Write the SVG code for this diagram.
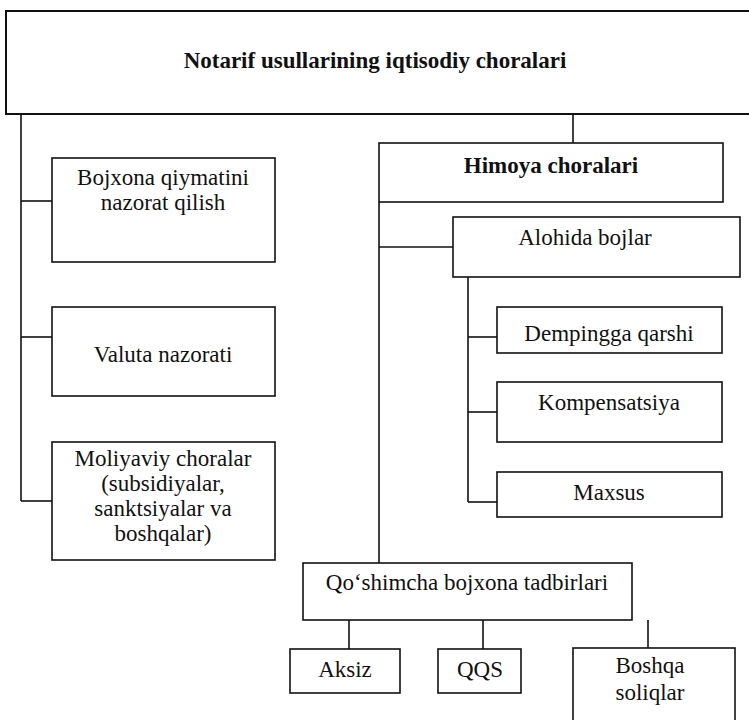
<svg xmlns="http://www.w3.org/2000/svg" width="749" height="720" viewBox="0 0 749 720">
<style>
rect{fill:#fff;stroke:#111;stroke-width:1.6}
.c line{stroke:#111;stroke-width:1.6}
text{font-family:"Liberation Serif","Times New Roman",serif;font-size:23px;fill:#111;text-anchor:middle}
.b{font-weight:bold}
</style>
<rect x="0" y="0" width="749" height="720" style="fill:#fff;stroke:none"/>
<g id="connectors" class="c">
<line x1="21" y1="114" x2="21" y2="501"/>
<line x1="21" y1="201" x2="52" y2="201"/>
<line x1="21" y1="337" x2="52" y2="337"/>
<line x1="21" y1="501" x2="52" y2="501"/>
<line x1="573" y1="114" x2="573" y2="143"/>
<line x1="379" y1="202" x2="379" y2="563"/>
<line x1="379" y1="247" x2="453" y2="247"/>
<line x1="468" y1="277" x2="468" y2="502"/>
<line x1="468" y1="337" x2="497" y2="337"/>
<line x1="468" y1="412" x2="497" y2="412"/>
<line x1="468" y1="502" x2="497" y2="502"/>
<line x1="349" y1="620" x2="349" y2="649"/>
<line x1="483" y1="620" x2="483" y2="649"/>
<line x1="648" y1="620" x2="648" y2="648"/>
</g>
<g id="top"><rect x="6" y="11" width="760" height="103" style="stroke-width:2"/><text class="b" x="375" y="68">Notarif usullarining iqtisodiy choralari</text></g>
<g id="bojxona"><rect x="52" y="158" width="223" height="104"/><text x="163" y="185">Bojxona qiymatini</text><text x="163" y="210">nazorat qilish</text></g>
<g id="valuta"><rect x="52" y="307" width="223" height="89"/><text x="163" y="362">Valuta nazorati</text></g>
<g id="moliyaviy"><rect x="52" y="442" width="223" height="118"/><text x="163" y="466">Moliyaviy choralar</text><text x="163" y="491">(subsidiyalar,</text><text x="163" y="516">sanktsiyalar va</text><text x="163" y="541">boshqalar)</text></g>
<g id="himoya"><rect x="379" y="143" width="344" height="59"/><text class="b" x="551" y="173">Himoya choralari</text></g>
<g id="alohida"><rect x="453" y="217" width="287" height="60"/><text x="585" y="245">Alohida bojlar</text></g>
<g id="dempingga"><rect x="497" y="307" width="225" height="46"/><text x="609" y="341">Dempingga qarshi</text></g>
<g id="kompensatsiya"><rect x="497" y="382" width="225" height="60"/><text x="609" y="410">Kompensatsiya</text></g>
<g id="maxsus"><rect x="497" y="472" width="225" height="45"/><text x="609" y="500">Maxsus</text></g>
<g id="qoshimcha"><rect x="303" y="563" width="329" height="57"/><text x="467" y="590">Qo‘shimcha bojxona tadbirlari</text></g>
<g id="aksiz"><rect x="290" y="649" width="110" height="44"/><text x="345" y="677">Aksiz</text></g>
<g id="qqs"><rect x="438" y="649" width="83" height="44"/><text x="480" y="677">QQS</text></g>
<g id="boshqa"><rect x="573" y="648" width="162" height="80"/><text x="650" y="673">Boshqa</text><text x="650" y="700">soliqlar</text></g>
</svg>
